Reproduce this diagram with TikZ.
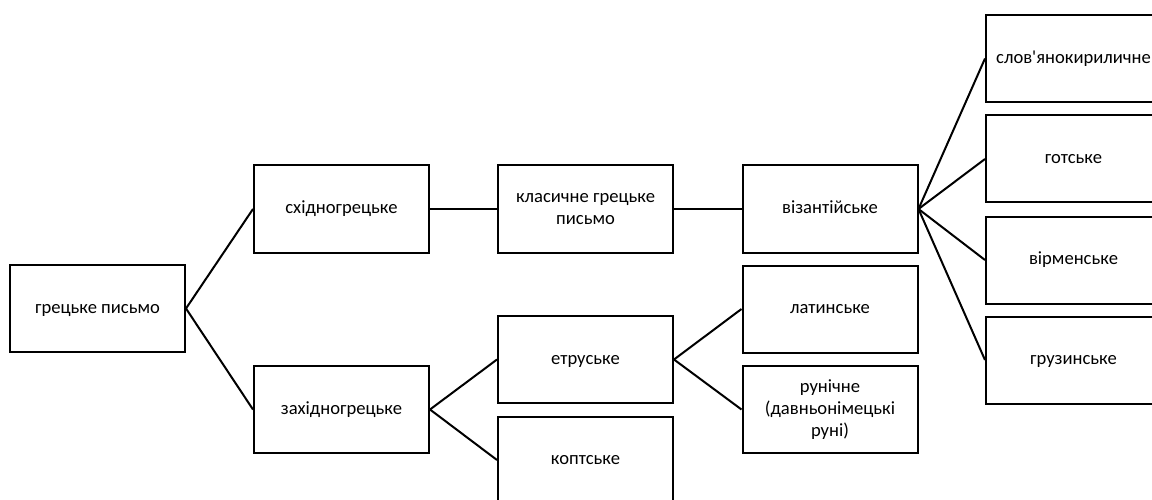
\documentclass[tikz,border=0pt]{standalone}
\usepackage{fontspec}
\setmainfont{Carlito}[Ligatures=TeXOff]
\newcommand{\mystrut}{\rule[-0.25em]{0pt}{1em}}
\begin{document}
\begin{tikzpicture}[x=1pt,y=-1pt,
  box/.style={draw=black,line width=2pt,rectangle,minimum width=175pt,minimum height=87pt,inner sep=2pt,align=center,font=\fontsize{18.6}{22}\selectfont},
  link/.style={draw=black,line width=2pt}]
\useasboundingbox (0,0) rectangle (1152,500);
\node[box] (greek) at (97.5,308.5) {\mystrut грецьке письмо};
\node[box] (east) at (341.5,209) {\mystrut східногрецьке};
\node[box] (west) at (341.5,409.5) {\mystrut західногрецьке};
\node[box] (klas) at (585.5,209) {\mystrut класичне грецьке\\\mystrut письмо};
\node[box] (etr) at (585.5,359.5) {\mystrut етруське};
\node[box] (kopt) at (585.5,460) {\mystrut коптське};
\node[box] (viz) at (830,209) {\mystrut візантійське};
\node[box] (lat) at (830,309) {\mystrut латинське};
\node[box] (run) at (830,409.5) {\mystrut рунічне\\\mystrut (давньонімецькі\\\mystrut руні)};
\node[box] (slav) at (1073.5,58.5) {\mystrut слов'янокириличне};
\node[box] (goth) at (1073.5,159) {\mystrut готське};
\node[box] (arm) at (1073.5,260) {\mystrut вірменське};
\node[box] (geo) at (1073.5,360) {\mystrut грузинське};
\draw[link] (greek.east) -- (east.west);
\draw[link] (greek.east) -- (west.west);
\draw[link] (east.east) -- (klas.west);
\draw[link] (klas.east) -- (viz.west);
\draw[link] (west.east) -- (etr.west);
\draw[link] (west.east) -- (kopt.west);
\draw[link] (etr.east) -- (lat.west);
\draw[link] (etr.east) -- (run.west);
\draw[link] (viz.east) -- (slav.west);
\draw[link] (viz.east) -- (goth.west);
\draw[link] (viz.east) -- (arm.west);
\draw[link] (viz.east) -- (geo.west);
\end{tikzpicture}
\end{document}
